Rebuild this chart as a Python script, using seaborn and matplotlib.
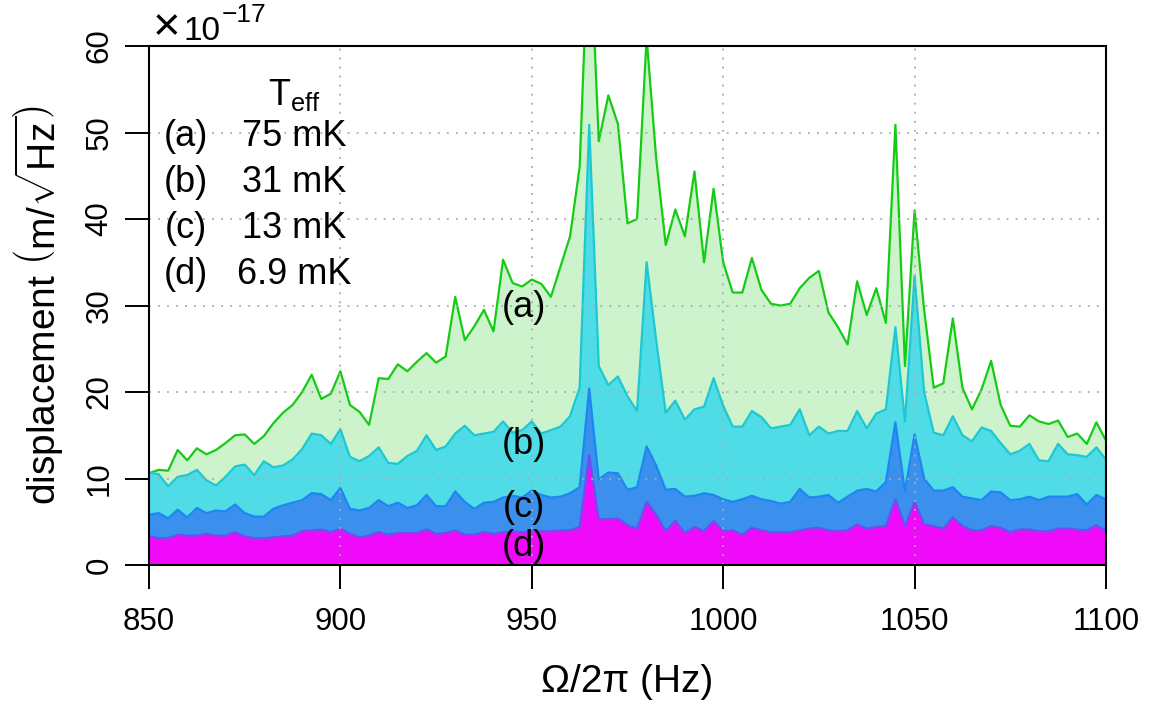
import matplotlib
matplotlib.use("Agg")
import matplotlib.pyplot as plt
import numpy as np
import seaborn as sns

# frequency grid (Hz), 2.5 Hz steps from 850 to 1100
freq = np.arange(850, 1100.1, 2.5)

# displacement spectra in units of 1e-17 m/sqrt(Hz)
spec_a = [10.6, 11.0, 10.9, 13.3, 12.1, 13.5, 12.8, 13.3, 14.1, 15.0,
          15.1, 14.0, 14.9, 16.4, 17.6, 18.5, 20.0, 22.0, 19.2, 19.8,
          22.4, 18.5, 17.7, 16.2, 21.6, 21.5, 23.2, 22.4, 23.5, 24.5,
          23.4, 24.1, 31.0, 26.0, 27.6, 29.5, 27.0, 35.3, 32.6, 32.2,
          33.0, 32.5, 31.0, 34.5, 38.0, 46.0, 75.0, 49.0, 54.3, 51.0,
          39.5, 40.0, 61.0, 47.0, 37.0, 41.1, 38.0, 45.5, 35.0, 43.5,
          35.0, 31.5, 31.5, 35.5, 31.8, 30.2, 30.0, 30.2, 32.0, 33.2,
          34.0, 29.2, 27.5, 25.5, 32.8, 28.9, 32.0, 28.0, 50.9, 23.0,
          41.0, 29.5, 20.5, 21.0, 28.5, 20.5, 18.0, 20.3, 23.6, 18.5,
          16.1, 16.0, 17.3, 16.6, 16.3, 16.7, 14.8, 15.2, 14.0, 16.5,
          14.4]
spec_b = [10.7, 10.5, 9.1, 10.2, 10.4, 11.0, 9.8, 9.2, 10.2, 11.4,
          11.6, 10.4, 12.0, 11.3, 11.5, 12.2, 13.4, 15.2, 15.0, 14.0,
          15.7, 12.5, 12.0, 12.6, 13.6, 11.8, 11.7, 12.6, 13.2, 15.0,
          13.3, 13.7, 15.2, 16.1, 15.0, 15.2, 15.4, 16.6, 15.3, 15.6,
          16.6, 15.2, 15.6, 16.0, 17.2, 20.5, 50.9, 23.0, 20.8, 21.8,
          19.5, 17.8, 35.0, 26.0, 17.6, 19.0, 16.8, 18.0, 18.3, 21.6,
          18.4, 16.0, 16.0, 17.8, 17.1, 15.8, 16.0, 16.2, 18.0, 15.0,
          16.0, 15.2, 15.5, 15.5, 17.8, 15.8, 17.5, 18.0, 27.5, 16.6,
          33.4, 20.0, 15.3, 15.0, 17.2, 15.0, 14.3, 15.9, 15.5, 14.1,
          12.8, 13.2, 14.0, 12.1, 12.0, 14.0, 12.8, 12.7, 12.5, 13.6,
          12.2]
spec_c = [5.8, 6.0, 5.4, 6.4, 5.5, 6.6, 6.0, 6.3, 6.2, 7.0,
          6.0, 5.6, 5.6, 6.5, 6.9, 7.2, 7.5, 8.3, 8.2, 7.5,
          8.9, 6.5, 6.3, 6.6, 7.5, 6.8, 7.2, 6.6, 6.9, 8.1,
          6.8, 6.8, 8.5, 7.3, 6.5, 7.2, 7.3, 7.8, 8.0, 7.8,
          8.6, 8.1, 7.8, 7.9, 8.3, 9.0, 20.4, 9.9, 10.7, 10.6,
          8.7, 9.0, 13.7, 11.5, 8.7, 8.8, 7.9, 8.0, 8.3, 8.1,
          7.6, 7.3, 7.6, 8.0, 7.6, 7.4, 7.1, 7.3, 8.8, 7.8,
          7.9, 8.1, 7.2, 7.9, 8.6, 8.8, 8.5, 9.6, 16.5, 8.5,
          15.1, 10.0, 8.6, 8.6, 9.0, 7.9, 7.7, 7.5, 8.5, 8.4,
          7.5, 7.6, 7.9, 7.5, 7.9, 7.9, 7.9, 8.2, 7.0, 8.1,
          7.6]
spec_d = [3.35, 3.1, 3.1, 3.5, 3.4, 3.4, 3.6, 3.4, 3.4, 3.8,
          3.3, 3.1, 3.1, 3.2, 3.3, 3.4, 3.9, 4.0, 4.1, 3.8,
          4.2, 3.6, 3.2, 3.4, 3.8, 3.5, 3.7, 3.7, 3.7, 4.1,
          3.6, 3.7, 4.0, 3.5, 3.5, 3.8, 3.6, 3.8, 3.9, 3.8,
          3.9, 3.9, 3.9, 4.0, 4.0, 4.4, 12.7, 5.3, 5.3, 5.4,
          4.6, 4.2, 7.3, 5.8, 3.9, 5.1, 3.7, 4.4, 3.9, 5.1,
          3.9, 4.0, 3.5, 4.3, 4.0, 3.8, 3.8, 3.8, 4.0, 4.2,
          4.3, 4.0, 3.9, 4.0, 4.7, 4.2, 4.4, 4.5, 7.6, 4.5,
          7.3, 4.7, 4.5, 4.2, 5.5, 4.5, 4.0, 4.0, 4.5, 4.3,
          3.8, 4.1, 4.1, 3.9, 3.9, 4.2, 4.2, 4.1, 4.0, 4.6,
          3.9]

labels = ['(a)', '(b)', '(c)', '(d)']
temps = ['75 mK', '31 mK', '13 mK', '6.9 mK']
fill_colors = ['#CCF3CC', '#50DCE6', '#3A90EC', '#F00AFA']
line_colors = ['#14CC14', '#1CC8D2', '#1E86F2', '#6A50F0']

sns.set_theme(style='white')
plt.rcParams['font.family'] = ['Liberation Sans', 'DejaVu Sans']
plt.rcParams['mathtext.fontset'] = 'custom'
plt.rcParams['mathtext.rm'] = 'Liberation Sans'
plt.rcParams['mathtext.it'] = 'Liberation Sans:italic'
plt.rcParams['text.color'] = 'black'
plt.rcParams['axes.labelcolor'] = 'black'
plt.rcParams['xtick.color'] = 'black'
plt.rcParams['ytick.color'] = 'black'

fig = plt.figure(figsize=(11.56, 7.06), dpi=100)
ax = fig.add_axes([0.1289, 0.1997, 0.8278, 0.7351])

for i, spec in enumerate([spec_a, spec_b, spec_c, spec_d]):
    ax.fill_between(freq, 0, spec, color=fill_colors[i], lw=0, zorder=1 + 2 * i)
    sns.lineplot(x=freq, y=spec, color=line_colors[i], lw=1.6, ax=ax,
                 zorder=2 + 2 * i)

ax.set_xlim(850, 1100)
ax.set_ylim(0, 60)
ax.set_xticks(range(850, 1101, 50))
ax.set_yticks(range(0, 61, 10))
ax.set_yticklabels([str(v) for v in range(0, 61, 10)], rotation=90, va='center')

for gx in [900, 950, 1000, 1050]:
    ax.axvline(gx, color='#AAAAAA', ls=(0, (1, 4)), lw=1.3, zorder=20)
for gy in [10, 20, 30, 40, 50]:
    ax.axhline(gy, color='#AAAAAA', ls=(0, (1, 4)), lw=1.3, zorder=20)

ax.tick_params(axis='both', direction='out', length=17, width=1.4,
               labelsize=22.5, color='black', labelcolor='black',
               left=True, bottom=True)
ax.tick_params(axis='x', pad=13)
ax.tick_params(axis='y', pad=8)
for sp in ax.spines.values():
    sp.set_linewidth(1.5)
    sp.set_color('black')
    sp.set_zorder(30)

ax.set_xlabel('Ω/2π (Hz)', fontsize=28, labelpad=20)
ax.set_ylabel(r'displacement $\left(\mathrm{m}/\sqrt{\mathrm{Hz}}\right)$',
              fontsize=28, labelpad=14)

# axis multiplier in the top-left corner
fig.text(153 / 1156, 1 - 40 / 706, '×', fontsize=34, ha='left', va='baseline')
fig.text(184 / 1156, 1 - 40 / 706, '10', fontsize=24, ha='left', va='baseline')
fig.text(222 / 1156, 1 - 22 / 706, '−17', fontsize=19, ha='left',
         va='baseline')

# legend-like text block
ax.text(888, 54.3, r'T$_{\mathrm{eff}}$', fontsize=26, ha='center',
        va='center', zorder=40)
for i in range(4):
    yy = 49.5 - 5.3 * i
    ax.text(859.7, yy, labels[i], fontsize=26, ha='center', va='center',
            zorder=40)
    ax.text(888, yy, temps[i], fontsize=26, ha='center', va='center', zorder=40)

# curve labels
label_y = [29.8, 13.9, 6.6, 2.1]
for i in range(4):
    ax.text(948, label_y[i], labels[i], fontsize=26, ha='center', va='center',
            zorder=40)

fig.savefig('out.png', dpi=100)
